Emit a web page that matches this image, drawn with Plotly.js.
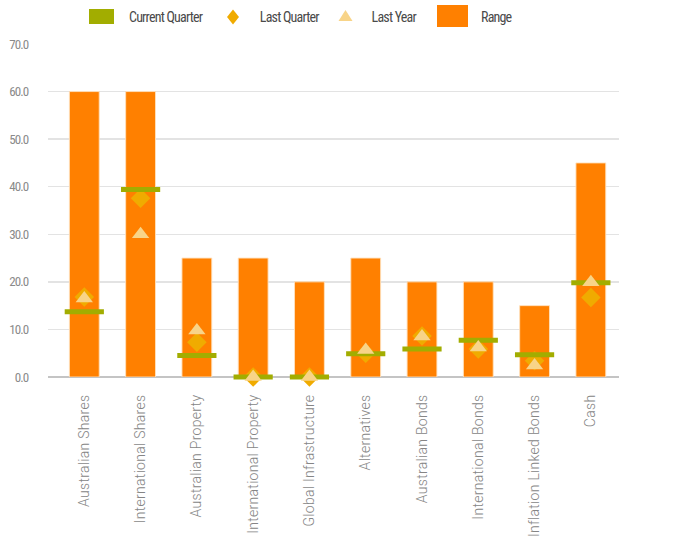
<!DOCTYPE html>
<html>
<head>
<meta charset="utf-8">
<script src="https://cdn.plot.ly/plotly-3.0.1.min.js"></script>
<style>
html,body{margin:0;padding:0;background:#fff;}
#chart{width:673px;height:536px;}
#chart .annotation-text{letter-spacing:-0.8px;}
#chart .ytick text{letter-spacing:-0.9px;}
#chart .xtick text{letter-spacing:0.3px;}
</style>
</head>
<body>
<div id="chart"></div>
<script>
var categories = ["Australian Shares","International Shares","Australian Property","International Property","Global Infrastructure","Alternatives","Australian Bonds","International Bonds","Inflation Linked Bonds","Cash"];
var rangeMax = [60, 60, 25, 25, 20, 25, 20, 20, 15, 45];
var currentQuarter = [13.7, 39.4, 4.5, 0, 0, 4.9, 5.9, 7.7, 4.7, 19.8];
var lastQuarter = [16.8, 37.6, 7.3, 0, 0, 5.0, 8.6, 5.9, 3.4, 16.7];
var lastYear = [16.5, 30.0, 9.8, 0, 0, 5.7, 8.5, 6.2, 2.4, 19.9];
var yTicks = [0, 10, 20, 30, 40, 50, 60, 70];
var legendNames = ["Current Quarter", "Last Quarter", "Last Year", "Range"];

var narrow = "Liberation Sans Narrow, Roboto Condensed, Roboto, sans-serif";

// pixel helpers for the custom legend (plot area: x 48..619, y 44..377)
function px(x){ return (x - 48) / 571; }
function py(y){ return (377 - y) / 333; }

var traces = [
  {type:"bar", name:legendNames[3], x:categories, y:rangeMax, width:0.53,
   marker:{color:"#ff8000", line:{color:"rgba(255,225,190,0.9)", width:1}},
   hoverinfo:"x+y", showlegend:false},
  {type:"scatter", mode:"markers", name:legendNames[1], x:categories, y:lastQuarter,
   marker:{symbol:"diamond", size:15, color:"#f0ab00", line:{width:0}},
   cliponaxis:false, showlegend:false},
  {type:"scatter", mode:"markers", name:legendNames[0], x:categories, y:currentQuarter,
   marker:{symbol:"line-ew", size:28, color:"#a2ad00", line:{color:"#a2ad00", width:5}},
   cliponaxis:false, showlegend:false},
  {type:"scatter", mode:"markers", name:legendNames[2], x:categories, y:lastYear,
   marker:{symbol:"triangle-up", size:15, color:"#f8d488", line:{width:0}},
   cliponaxis:false, showlegend:false}
];

var shapes = [
  {type:"rect", xref:"paper", yref:"paper", x0:px(89), x1:px(114), y0:py(24), y1:py(9),
   fillcolor:"#a2ad00", line:{width:0}},
  {type:"path", xref:"paper", yref:"paper",
   path:"M"+px(227)+","+py(17)+" L"+px(233)+","+py(9.5)+" L"+px(239)+","+py(17)+" L"+px(233)+","+py(24.5)+" Z",
   fillcolor:"#f0ab00", line:{width:0}},
  {type:"path", xref:"paper", yref:"paper",
   path:"M"+px(338.5)+","+py(21)+" L"+px(352.5)+","+py(21)+" L"+px(345.5)+","+py(10)+" Z",
   fillcolor:"#f8d488", line:{width:0}},
  {type:"rect", xref:"paper", yref:"paper", x0:px(437), x1:px(468), y0:py(27), y1:py(5),
   fillcolor:"#ff8000", line:{width:0}}
];

var legendX = [121, 253, 366, 477];
var annotations = legendNames.map(function(n, i){
  return {xref:"paper", yref:"paper", x:px(legendX[i]), y:py(17), xanchor:"left", yanchor:"middle",
          text:n, showarrow:false, font:{family:narrow, size:14, color:"#4a4a4a"}};
});

var layout = {
  width:673, height:536,
  margin:{l:48, r:54, t:44, b:159, pad:0},
  paper_bgcolor:"#fff", plot_bgcolor:"#fff",
  showlegend:false,
  bargap:0,
  xaxis:{type:"category", range:[-0.645, 9.5], tickangle:-90,
         ticks:"outside", ticklen:11, tickcolor:"rgba(0,0,0,0)",
         tickfont:{family:"Roboto, sans-serif", size:14, color:"#858585", weight:300},
         showgrid:false, showline:false, zeroline:false, fixedrange:true},
  yaxis:{range:[0,70], tickvals:yTicks, ticktext:yTicks.map(function(v){return v.toFixed(1);}),
         ticks:"outside", ticklen:16, tickcolor:"rgba(0,0,0,0)",
         tickfont:{family:narrow, size:13, color:"#8a8a8a"},
         showgrid:true, gridcolor:"#e3e3e3", gridwidth:1.5,
         zeroline:true, zerolinecolor:"#c4c4c4", zerolinewidth:2,
         showline:false, fixedrange:true},
  shapes:shapes,
  annotations:annotations
};

Plotly.newPlot("chart", traces, layout, {displayModeBar:false, staticPlot:true});
</script>
</body>
</html>
